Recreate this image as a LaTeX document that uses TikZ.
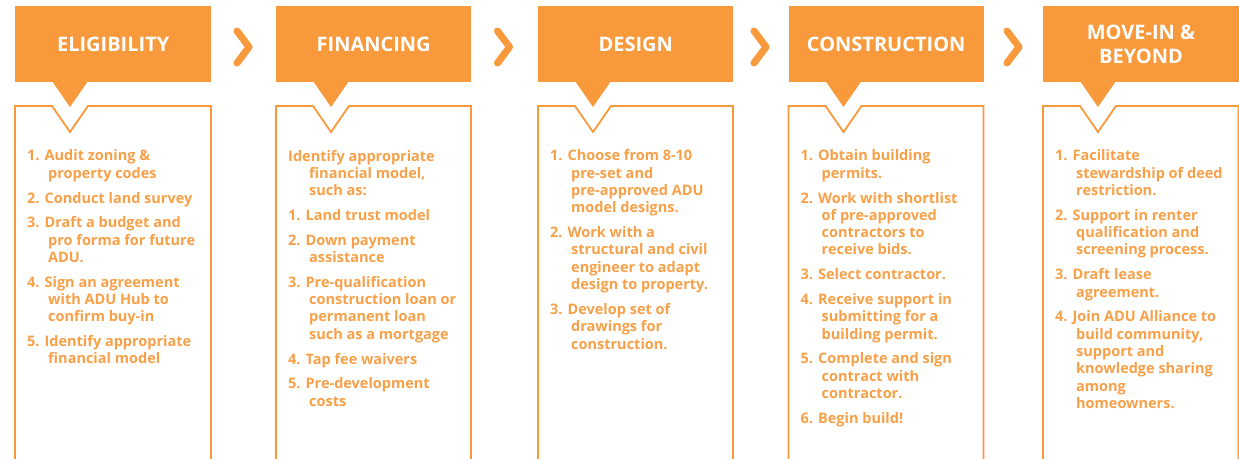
\documentclass[tikz,border=0pt]{standalone}
\usepackage{fontspec}
\setmainfont{Open Sans}
\definecolor{ora}{HTML}{F89A3C}
\definecolor{oratxt}{HTML}{F8A048}
\tikzset{
  hdr/.style={fill=ora, inner sep=0pt, minimum height=76, text=white,
    font=\bfseries\fontsize{20}{23.5}\selectfont, align=center, anchor=north west},
  bodytext/.style={text=oratxt, inner sep=0pt, anchor=north west, align=left,
    font=\bfseries\fontsize{14.5}{17.3}\selectfont},
  boxline/.style={draw=ora, line width=1.8},
  chev/.style={draw=ora, line width=7, line cap=round, line join=round},
}
\newcommand\adui{\hspace*{21pt}}
\newcommand\adugap{\\[7.5pt]}
\newcommand\adustage[5]{%
  \node[hdr, minimum width=#3] (h#1) at (#2,6) {#4};
  \fill[ora] (#2+37,81) -- (#2+55,107) -- (#2+73,81) -- cycle;
  \draw[boxline] (#2,460) -- (#2,106) -- (#2+37,106) -- (#2+55,132) -- (#2+73,106) -- (#2+#3,106) -- (#2+#3,460);
  \node[bodytext] (b#1) at (#2+12,149.7) {#5};
}
\begin{document}
\begin{tikzpicture}[x=1pt,y=-1pt]
\useasboundingbox (0,0) rectangle (1239,458);
\adustage{1}{15}{196}{ELIGIBILITY}{%
1. Audit zoning \&\\\adui property codes\adugap
2. Conduct land survey\adugap
3. Draft a budget and\\\adui pro forma for future\\\adui ADU.\adugap
4. Sign an agreement\\\adui with ADU Hub to\\\adui confirm buy-in\adugap
5. Identify appropriate\\\adui financial model}
\adustage{2}{276}{195}{FINANCING}{%
Identify appropriate\\\adui financial model,\\\adui such as:\adugap
1. Land trust model\adugap
2. Down payment\\\adui assistance\adugap
3. Pre-qualification\\\adui construction loan or\\\adui permanent loan\\\adui such as a mortgage\adugap
4. Tap fee waivers\adugap
5. Pre-development\\\adui costs}
\adustage{3}{538}{195}{DESIGN}{%
1. Choose from 8-10\\\adui pre-set and\\\adui pre-approved ADU\\\adui model designs.\adugap
2. Work with a\\\adui structural and civil\\\adui engineer to adapt\\\adui design to property.\adugap
3. Develop set of\\\adui drawings for\\\adui construction.}
\adustage{4}{788.5}{195}{CONSTRUCTION}{%
1. Obtain building\\\adui permits.\adugap
2. Work with shortlist\\\adui of pre-approved\\\adui contractors to\\\adui receive bids.\adugap
3. Select contractor.\adugap
4. Receive support in\\\adui submitting for a\\\adui building permit.\adugap
5. Complete and sign\\\adui contract with\\\adui contractor.\adugap
6. Begin build!}
\adustage{5}{1043}{195.5}{MOVE-IN \&\\BEYOND}{%
1. Facilitate\\\adui stewardship of deed\\\adui restriction.\adugap
2. Support in renter\\\adui qualification and\\\adui screening process.\adugap
3. Draft lease\\\adui agreement.\adugap
4. Join ADU Alliance to\\\adui build community,\\\adui support and\\\adui knowledge sharing\\\adui among\\\adui homeowners.}
\foreach \n/\cx in {1/243,2/503.5,3/760,4/1013}{
  \coordinate (c\n) at (\cx,47);
  \draw[chev] ([shift={(-6,-16)}]c\n) -- ([shift={(6,0)}]c\n) -- ([shift={(-6,16)}]c\n);
}
\end{tikzpicture}
\end{document}
